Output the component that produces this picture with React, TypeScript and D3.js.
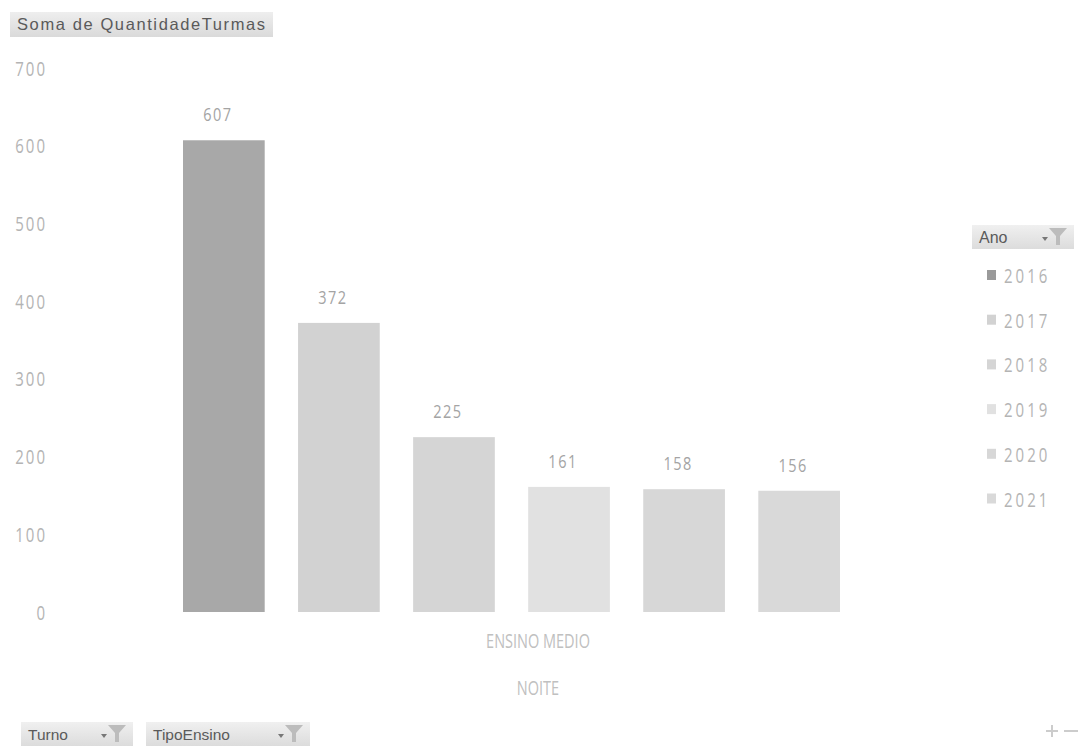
import React from "react";
import * as d3 from "d3";

// Pivot chart: Soma de QuantidadeTurmas by Ano (ENSINO MEDIO / NOITE)
const years: string[] = ["2016", "2017", "2018", "2019", "2020", "2021"];
const turmas: number[] = [607, 372, 225, 161, 158, 156];
const yearColors: string[] = ["#a8a8a8", "#d2d2d2", "#d5d5d5", "#e1e1e1", "#d7d7d7", "#d9d9d9"];
const yTicks: number[] = [0, 100, 200, 300, 400, 500, 600, 700];
const categoryLabels: string[] = ["ENSINO MEDIO", "NOITE"];

const W = 1085;
const H = 753;
const FONT = "Open Sans, DejaVu Sans, sans-serif";
const UI_FONT = "Liberation Sans, Arial, sans-serif";

// Text drawn with a slight vertical stretch (tall, narrow glyphs)
function TallText({
  x,
  y,
  sy,
  size,
  fill,
  anchor = "start",
  spacing = 0,
  children,
}: {
  x: number;
  y: number;
  sy: number;
  size: number;
  fill: string;
  anchor?: "start" | "middle" | "end";
  spacing?: number;
  children: React.ReactNode;
}) {
  return (
    <text
      transform={`translate(${x},${y}) scale(1,${sy})`}
      textAnchor={anchor}
      fontSize={size}
      fill={fill}
      fontFamily={FONT}
      letterSpacing={spacing}
    >
      {children}
    </text>
  );
}

function FilterButton({ x, y, w, label, size = 15.5 }: { x: number; y: number; w: number; label: string; size?: number }) {
  const id = `btn-${label}`;
  return (
    <g transform={`translate(${x},${y})`}>
      <defs>
        <linearGradient id={id} x1="0" y1="0" x2="0" y2="1">
          <stop offset="0" stopColor="#f0f0f0" />
          <stop offset="1" stopColor="#dcdcdc" />
        </linearGradient>
      </defs>
      <rect width={w} height={24} fill={`url(#${id})`} />
      <text x={7} y={18} fontSize={size} fill="#5a5a5a" fontFamily={UI_FONT}>
        {label}
      </text>
      {/* dropdown arrow */}
      <path d={`M${w - 32},12 l6,0 l-3,4 z`} fill="#777" />
      {/* filter funnel */}
      <path d={`M${w - 25},3 l18,0 l-7,8 l0,9 l-4,0 l0,-9 z`} fill="#bcbcbc" />
    </g>
  );
}

export default function App() {
  const y = d3.scaleLinear().domain([0, 700]).range([612, 68]);
  const x = d3
    .scaleBand<string>()
    .domain(years)
    .range([183, 840])
    .paddingInner(0.29)
    .paddingOuter(0);

  const catCenter = 538;

  return (
    <svg width={W} height={H} style={{ display: "block", position: "absolute", left: 0, top: 0 }}>
      <rect width={W} height={H} fill="#ffffff" />

      {/* title button */}
      <g>
        <defs>
          <linearGradient id="titleGrad" x1="0" y1="0" x2="0" y2="1">
            <stop offset="0" stopColor="#eeeeee" />
            <stop offset="1" stopColor="#dadada" />
          </linearGradient>
        </defs>
        <rect x={10} y={12} width={263} height={25} fill="url(#titleGrad)" />
        <text x={17} y={30} fontSize={16.5} fill="#5a5a5a" fontFamily={UI_FONT} letterSpacing={1.6}>
          Soma de QuantidadeTurmas
        </text>
      </g>

      {/* y axis labels */}
      {yTicks.map((t) => (
        <TallText key={t} x={47} y={y(t) + 7.5} sy={1.35} size={15} fill="#b4b4b4" anchor="end" spacing={2}>
          {t}
        </TallText>
      ))}

      {/* bars */}
      {years.map((yr, i) => (
        <rect
          key={yr}
          x={x(yr)}
          y={y(turmas[i])}
          width={x.bandwidth()}
          height={y(0) - y(turmas[i])}
          fill={yearColors[i]}
        />
      ))}

      {/* data labels */}
      {years.map((yr, i) => (
        <TallText
          key={`l-${yr}`}
          x={(x(yr) as number) + x.bandwidth() / 2 - 6}
          y={y(turmas[i]) - 19}
          sy={1.2}
          size={14.5}
          fill="#a4a4a4"
          anchor="middle"
          spacing={1.5}
        >
          {turmas[i]}
        </TallText>
      ))}

      {/* category labels */}
      <TallText x={catCenter} y={648} sy={1.4} size={14.5} fill="#c0c0c0" anchor="middle">
        {categoryLabels[0]}
      </TallText>
      <TallText x={catCenter} y={695} sy={1.4} size={14.5} fill="#c0c0c0" anchor="middle">
        {categoryLabels[1]}
      </TallText>

      {/* legend */}
      <FilterButton x={972} y={225} w={102} label="Ano" size={16} />
      {years.map((yr, i) => (
        <g key={`lg-${yr}`} transform={`translate(987,${275 + i * 44.7})`}>
          <rect x={0} y={-5} width={9} height={10} fill={i === 0 ? "#9a9a9a" : yearColors[i]} />
          <TallText x={17} y={8} sy={1.3} size={15} fill="#b4b4b4" spacing={3}>
            {yr}
          </TallText>
        </g>
      ))}

      {/* field buttons */}
      <FilterButton x={21} y={722} w={112} label="Turno" />
      <FilterButton x={146} y={722} w={164} label="TipoEnsino" />

      {/* expand / collapse */}
      <g stroke="#cccccc" strokeWidth={2}>
        <line x1={1046} y1={731} x2={1058} y2={731} />
        <line x1={1052} y1={725} x2={1052} y2={737} />
        <line x1={1064} y1={731} x2={1078} y2={731} />
      </g>
    </svg>
  );
}
